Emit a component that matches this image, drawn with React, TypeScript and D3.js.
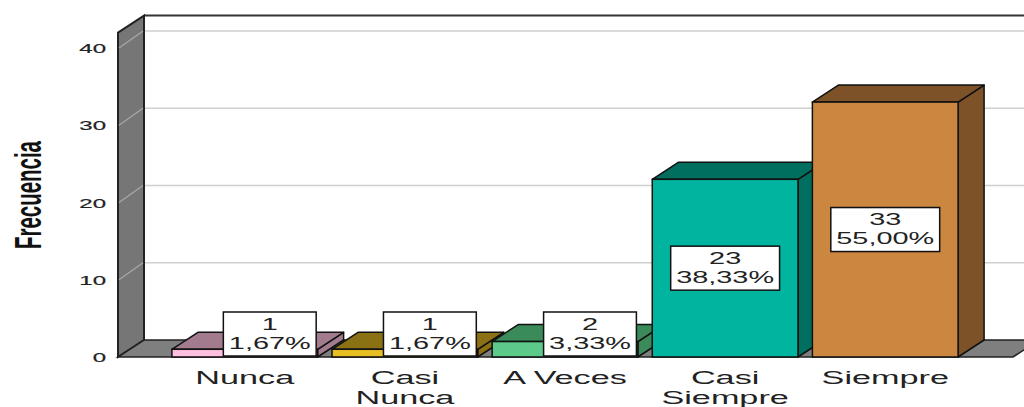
import React, { useEffect, useRef } from "react";
import * as d3 from "d3";

// Response categories and their frequencies
const categories = ["Nunca", "Casi Nunca", "A Veces", "Casi Siempre", "Siempre"];
const categoryLines = [["Nunca"], ["Casi", "Nunca"], ["A Veces"], ["Casi", "Siempre"], ["Siempre"]];
const frequencies = [1, 1, 2, 23, 33];
const percentLabels = ["1,67%", "1,67%", "3,33%", "38,33%", "55,00%"];
const yTicks = [0, 10, 20, 30, 40];

// Face colours per bar: front, top/side
const frontColors = ["#ffbfe0", "#e8bf22", "#5ccb8a", "#00b4a0", "#cb8640"];
const shadeColors = ["#a27c8e", "#8b7114", "#3b8a5a", "#006f60", "#7d5228"];

const W = 1024;
const H = 407;
const DX = 26; // depth offset of the 3D projection
const DY = -17;

export default function App() {
  const ref = useRef<SVGSVGElement | null>(null);

  useEffect(() => {
    const svg = d3.select(ref.current);
    svg.selectAll("*").remove();

    const floorY = 357;
    const wallX = 118;
    const y = d3.scaleLinear().domain([0, 40]).range([floorY, 48]);
    const yMax = 42;
    const x = d3
      .scaleBand<string>()
      .domain(categories)
      .range([164.7, 965.3])
      .paddingInner(0.09)
      .paddingOuter(0.045);

    const right = 1013;
    const g = svg.append("g");

    // back wall
    g.append("rect")
      .attr("x", wallX + DX)
      .attr("y", y(yMax) + DY)
      .attr("width", W)
      .attr("height", floorY - y(yMax))
      .attr("fill", "#ffffff");

    // gridlines on back wall
    g.selectAll(".grid")
      .data(yTicks.filter((t) => t > 0))
      .join("line")
      .attr("x1", wallX + DX)
      .attr("x2", W + 40)
      .attr("y1", (d) => y(d) + DY)
      .attr("y2", (d) => y(d) + DY)
      .attr("stroke", "#cfcfcf")
      .attr("stroke-width", 1.5);

    // top edge of back wall
    g.append("line")
      .attr("x1", wallX + DX)
      .attr("x2", W + 40)
      .attr("y1", y(yMax) + DY)
      .attr("y2", y(yMax) + DY)
      .attr("stroke", "#333")
      .attr("stroke-width", 2);

    // left wall
    g.append("polygon")
      .attr(
        "points",
        [
          [wallX, y(yMax)],
          [wallX + DX, y(yMax) + DY],
          [wallX + DX, floorY + DY],
          [wallX, floorY],
        ]
          .map((p) => p.join(","))
          .join(" ")
      )
      .attr("fill", "#767676")
      .attr("stroke", "#222")
      .attr("stroke-width", 2);

    // gridline traces on the left wall
    g.selectAll(".wgrid")
      .data(yTicks.filter((t) => t > 0))
      .join("line")
      .attr("x1", wallX + 1)
      .attr("x2", wallX + DX - 1)
      .attr("y1", (d) => y(d))
      .attr("y2", (d) => y(d) + DY)
      .attr("stroke", "#a8a8a8")
      .attr("stroke-width", 1.2);

    // floor
    g.append("polygon")
      .attr(
        "points",
        [
          [wallX, floorY],
          [wallX + DX, floorY + DY],
          [right + DX, floorY + DY],
          [right, floorY],
        ]
          .map((p) => p.join(","))
          .join(" ")
      )
      .attr("fill", "#7f7f7f")
      .attr("stroke", "#222")
      .attr("stroke-width", 1.5);

    // y tick labels
    g.selectAll(".tick")
      .data(yTicks)
      .join("text")
      .attr("transform", (d) => `translate(106,${y(d) + 5}) scale(1.85,1)`)
      .attr("text-anchor", "end")
      .attr("font-family", "Liberation Sans, Arial, sans-serif")
      .attr("font-size", 13)
      .attr("fill", "#222")
      .attr("stroke", "#222")
      .attr("stroke-width", 0.2)
      .text((d) => String(d));

    // axis title
    g.append("text")
      .attr("transform", `translate(41,195) rotate(-90)`)
      .attr("text-anchor", "middle")
      .attr("font-family", "Liberation Sans, Arial, sans-serif")
      .attr("font-weight", "bold")
      .attr("font-size", 36)
      .attr("textLength", 108)
      .attr("lengthAdjust", "spacingAndGlyphs")
      .attr("fill", "#111")
      .text("Frecuencia");

    // 3D bars
    const bw = x.bandwidth();
    categories.forEach((c, i) => {
      const x0 = x(c)!;
      const top = y(frequencies[i]);
      const bar = g.append("g");
      const pts = (arr: number[][]) => arr.map((p) => p.join(",")).join(" ");
      // side face
      bar
        .append("polygon")
        .attr(
          "points",
          pts([
            [x0 + bw, top],
            [x0 + bw + DX, top + DY],
            [x0 + bw + DX, floorY + DY],
            [x0 + bw, floorY],
          ])
        )
        .attr("fill", shadeColors[i])
        .attr("stroke", "#111")
        .attr("stroke-width", 1.5)
        .attr("stroke-linejoin", "round");
      // top face
      bar
        .append("polygon")
        .attr(
          "points",
          pts([
            [x0, top],
            [x0 + DX, top + DY],
            [x0 + bw + DX, top + DY],
            [x0 + bw, top],
          ])
        )
        .attr("fill", shadeColors[i])
        .attr("stroke", "#111")
        .attr("stroke-width", 1.5)
        .attr("stroke-linejoin", "round");
      // front face
      bar
        .append("rect")
        .attr("x", x0)
        .attr("y", top)
        .attr("width", bw)
        .attr("height", floorY - top)
        .attr("fill", frontColors[i])
        .attr("stroke", "#111")
        .attr("stroke-width", 1.5);
    });

    // value labels
    categories.forEach((c, i) => {
      const x0 = x(c)!;
      const top = y(frequencies[i]);
      const boxH = 44;
      let cx = x0 + bw / 2;
      let cy = (top + floorY) / 2;
      if (floorY - top < boxH + 10) {
        cx += 25;
        cy = floorY - 1 - boxH / 2;
      }
      const lbl = g.append("g").attr("transform", `translate(${cx},${cy})`);
      const rect = lbl
        .append("rect")
        .attr("fill", "#ffffff")
        .attr("stroke", "#111")
        .attr("stroke-width", 1.5);
      const lines = [String(frequencies[i]), percentLabels[i]];
      const sx = 1.75;
      const texts = lines.map((t, k) =>
        lbl
          .append("text")
          .attr("transform", `translate(0,${k === 0 ? -4.5 : 14.5}) scale(${sx},1)`)
          .attr("text-anchor", "middle")
          .attr("font-family", "Liberation Sans, Arial, sans-serif")
          .attr("font-size", 16.5)
          .attr("fill", "#222")
          .text(t)
      );
      const maxW = d3.max(texts, (t) => (t.node() as SVGTextElement).getComputedTextLength() * sx) || 60;
      const bwBox = maxW + 11;
      rect
        .attr("x", -bwBox / 2)
        .attr("y", -boxH / 2)
        .attr("width", bwBox)
        .attr("height", boxH);
    });

    // category labels
    categories.forEach((c, i) => {
      const cx = x(c)! + bw / 2;
      categoryLines[i].forEach((line, k) => {
        g.append("text")
          .attr("transform", `translate(${cx},${384 + k * 20}) scale(1.8,1)`)
          .attr("text-anchor", "middle")
          .attr("font-family", "Liberation Sans, Arial, sans-serif")
          .attr("font-size", 19)
          .attr("fill", "#222")
          .text(line);
      });
    });
  }, []);

  return (
    <svg
      ref={ref}
      width={W}
      height={H}
      style={{ position: "absolute", left: 0, top: 0, display: "block", background: "#fff" }}
    />
  );
}
